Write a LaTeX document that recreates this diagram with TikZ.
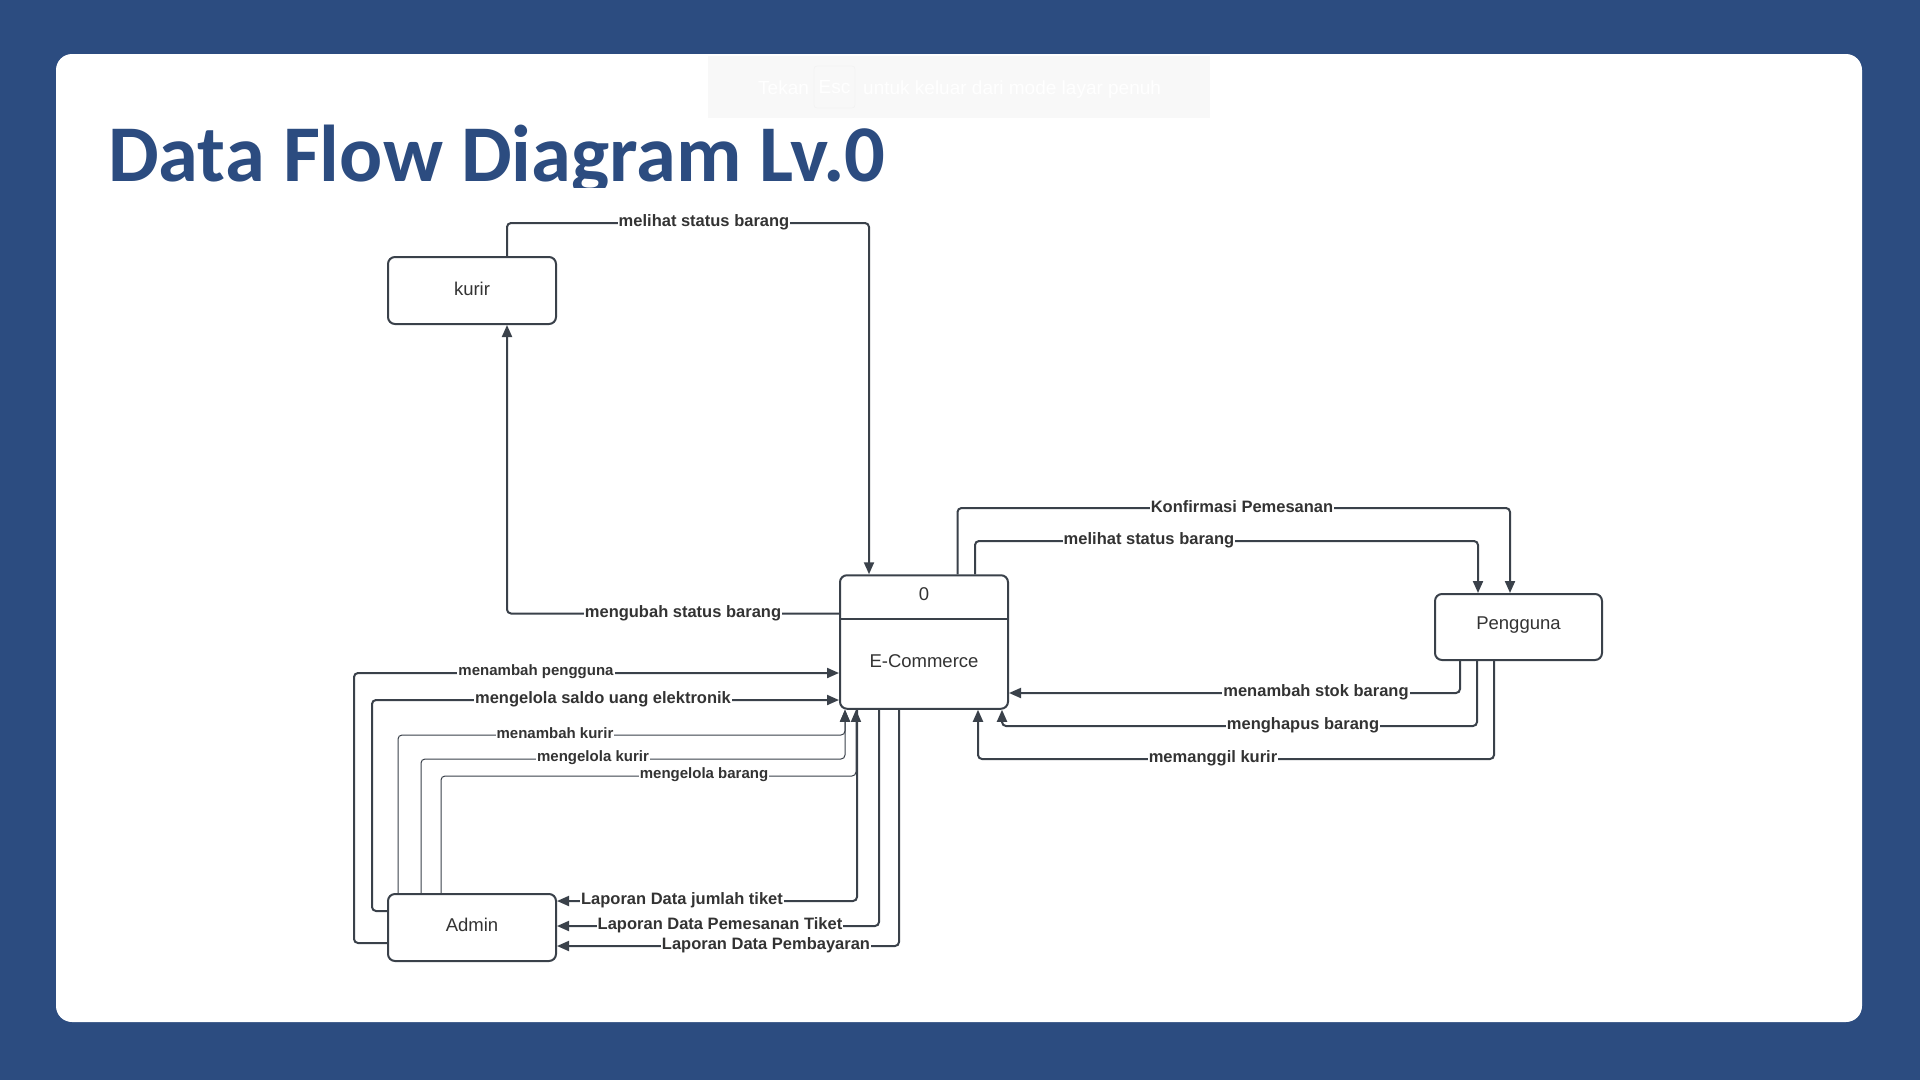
\documentclass[tikz,border=0pt]{standalone}
\usepackage{fontspec}
\setmainfont{Liberation Sans}
\newfontfamily\titlefont{Carlito}
\usetikzlibrary{arrows.meta}
\definecolor{bgblue}{RGB}{44,76,128}
\definecolor{ln}{RGB}{58,65,74}
\definecolor{txt}{RGB}{51,51,51}
\definecolor{faint}{RGB}{248,248,248}
\definecolor{faintline}{RGB}{240,240,240}
\begin{document}
\begin{tikzpicture}[x=1pt,y=-1pt,
  box/.style={draw=ln, line width=2pt, rounded corners=7pt, fill=white, minimum width=168pt, minimum height=67pt, inner sep=0pt, font=\fontsize{18.5}{20}\selectfont, text=txt},
  flow/.style={draw=ln, line width=2pt, rounded corners=4pt, -{Triangle[length=12pt,width=10pt]}},
  thinflow/.style={draw=ln, line width=1pt, rounded corners=4pt, -{Triangle[length=12pt,width=10pt]}},
  lbl/.style={fill=white, text=txt, inner sep=1pt, font=\bfseries\fontsize{16.5}{18}\selectfont},
  slbl/.style={fill=white, text=txt, inner sep=1pt, font=\bfseries\fontsize{15}{17}\selectfont},
  boxtxt/.style={text=txt, font=\fontsize{18.5}{20}\selectfont},
]
\useasboundingbox (0,0) rectangle (1920,1080);
\fill[bgblue] (0,0) rectangle (1920,1080);
\fill[white, rounded corners=16pt] (56,54) rectangle (1862,1022);

% faint overlay
\fill[faint] (708,56) rectangle (1210,118);
\node[anchor=base west, inner sep=0, text=white, font=\fontsize{19}{22}\selectfont] (tekan) at (758,94) {Tekan};
\node[draw=faintline, rounded corners=3pt, minimum width=41pt, minimum height=42pt, inner sep=0, text=white, font=\fontsize{19}{22}\selectfont] (esc) at (834.5,87) {Esc};
\node[anchor=base west, inner sep=0, text=white, font=\fontsize{19}{22}\selectfont] (keluar) at (863,94) {untuk keluar dari mode layar penuh};

% title
\begin{scope}
\clip (90,100) rectangle (950,187);
\node[anchor=base west, inner sep=0, text=bgblue, font=\titlefont\bfseries\fontsize{80.5}{82}\selectfont] (title) at (108,181) {Data Flow Diagram Lv.0};
\end{scope}

% nodes
\node[box] (kurir) at (472,290.5) {};
\node[boxtxt] (kurirtxt) at (472,288.5) {kurir};
\node[box] (admin) at (472,927.5) {};
\node[boxtxt] (admintxt) at (472,925) {Admin};
\node[box, minimum width=167pt, minimum height=66pt] (pengguna) at (1518.5,627) {};
\node[boxtxt] (penggunatxt) at (1518.5,625) {Pengguna};
\node[box, minimum height=133.5pt] (ec) at (924,642) {};
\draw[ln, line width=2pt] (ec.west |- 0,618.5) -- (ec.east |- 0,618.5);
\node[boxtxt] (eczero) at (924,594) {0};
\node[boxtxt] (ecname) at (924,661) {E-Commerce};

% kurir <-> E-Commerce
\draw[flow] (kurir.north -| 507,0) |- (869,223) -- (ec.north -| 869,0);
\node[lbl] (l1) at (704,222) {melihat status barang};
\draw[flow] (ec.west |- 0,613.5) -| (kurir.south -| 507,0);
\node[lbl] (l2) at (683,613) {mengubah status barang};

% Admin -> E-Commerce
\draw[flow] (admin.west |- 0,943) -| (354,673) -- (ec.west |- 0,673);
\node[slbl] (l3) at (536,672) {menambah pengguna};
\draw[flow] (admin.west |- 0,911) -| (372,700) -- (ec.west |- 0,700);
\node[lbl] (l4) at (603,699) {mengelola saldo uang elektronik};
\draw[thinflow] (admin.north -| 398,0) |- (845,735) -- (ec.south -| 845,0);
\node[slbl] (l5) at (555,733) {menambah kurir};
\draw[thinflow] (admin.north -| 421,0) |- (845,759) -- (ec.south -| 845,0);
\node[slbl] (l6) at (593,758) {mengelola kurir};
\draw[thinflow] (admin.north -| 441,0) |- (856,776) -- (ec.south -| 856,0);
\node[slbl] (l7) at (704,775) {mengelola barang};

% E-Commerce -> Admin
\draw[flow] (ec.south -| 857,0) |- (admin.east |- 0,901);
\node[lbl] (l8) at (682,900) {Laporan Data jumlah tiket};
\draw[flow] (ec.south -| 879,0) |- (admin.east |- 0,926);
\node[lbl] (l9) at (720,925) {Laporan Data Pemesanan Tiket};
\draw[flow] (ec.south -| 899,0) |- (admin.east |- 0,946);
\node[lbl] (l10) at (766,945.5) {Laporan Data Pembayaran};

% E-Commerce -> Pengguna
\draw[flow] (ec.north -| 957.5,0) |- (1510,508) -- (pengguna.north -| 1510,0);
\node[lbl] (l11) at (1242,507) {Konfirmasi Pemesanan};
\draw[flow] (ec.north -| 975,0) |- (1478,541) -- (pengguna.north -| 1478,0);
\node[lbl] (l12) at (1149,540) {melihat status barang};

% Pengguna -> E-Commerce
\draw[flow] (pengguna.south -| 1460,0) |- (ec.east |- 0,693);
\node[lbl] (l13) at (1316,692) {menambah stok barang};
\draw[flow] (pengguna.south -| 1477,0) |- (1002,726) -- (ec.south -| 1002,0);
\node[lbl] (l14) at (1303,725) {menghapus barang};
\draw[flow] (pengguna.south -| 1494,0) |- (978,759) -- (ec.south -| 978,0);
\node[lbl] (l15) at (1213,758) {memanggil kurir};
\end{tikzpicture}
\end{document}
